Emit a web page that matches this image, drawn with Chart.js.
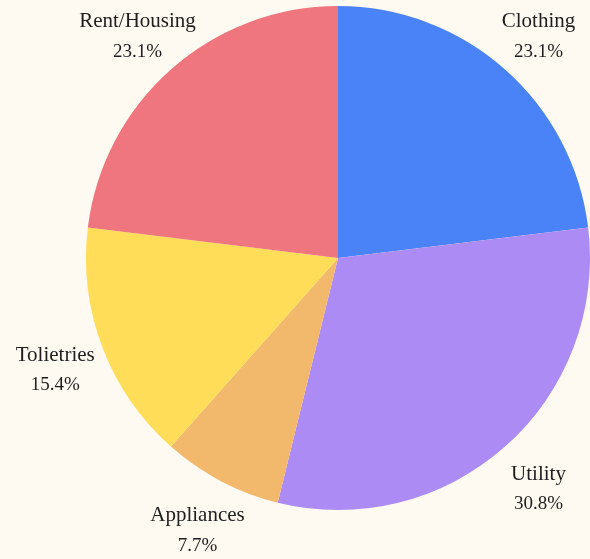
<!DOCTYPE html>
<html>
<head>
<meta charset="utf-8">
<script src="https://cdn.jsdelivr.net/npm/chart.js@4"></script>
<style>
  html, body { margin: 0; padding: 0; background: #fef9f1; }
  #wrap { width: 590px; height: 559px; position: relative; font-family: "Liberation Serif", "DejaVu Serif", serif; }
</style>
</head>
<body>
<div id="wrap"><canvas id="pie"></canvas></div>
<script>
// spending categories, clockwise from top
const categories = ['Clothing', 'Utility', 'Appliances', 'Tolietries', 'Rent/Housing'];
const amounts = [3, 4, 1, 2, 3];
const sliceColors = ['#4a83f7', '#ad8bf5', '#f2b96c', '#ffdd58', '#ef757e'];

const serif = '"Liberation Serif", "DejaVu Serif", "Times New Roman", serif';

// draws name + percent outside each slice
const outerLabels = {
    id: 'outerLabels',
    afterDatasetsDraw(chart) {
        const ctx = chart.ctx;
        const meta = chart.getDatasetMeta(0);
        const total = amounts.reduce((a, b) => a + b, 0);
        ctx.save();
        ctx.fillStyle = '#1e1e1e';
        ctx.textAlign = 'center';
        ctx.textBaseline = 'middle';
        meta.data.forEach((arc, i) => {
            const mid = (arc.startAngle + arc.endAngle) / 2;
            const d = arc.outerRadius * 1.2;
            const x = arc.x + Math.cos(mid) * d;
            const y = arc.y + Math.sin(mid) * d + 4;
            ctx.font = '21px ' + serif;
            ctx.fillText(categories[i], x, y - 14);
            ctx.font = '19px ' + serif;
            ctx.fillText((amounts[i] / total * 100).toFixed(1) + '%', x, y + 16);
        });
        ctx.restore();
    }
};

function draw() {
    new Chart(document.getElementById('pie'), {
        type: 'pie',
        data: {
            labels: categories,
            datasets: [{ data: amounts, backgroundColor: sliceColors, borderWidth: 0 }]
        },
        options: {
            responsive: true, maintainAspectRatio: false, animation: false,
            layout: { padding: { left: 86, right: 0, top: 6, bottom: 49 } },
            plugins: { legend: { display: false }, tooltip: { enabled: false } }
        },
        plugins: [outerLabels]
    });
}

document.fonts.load('21px "Liberation Serif"').then(draw, draw);
</script>
</body>
</html>
